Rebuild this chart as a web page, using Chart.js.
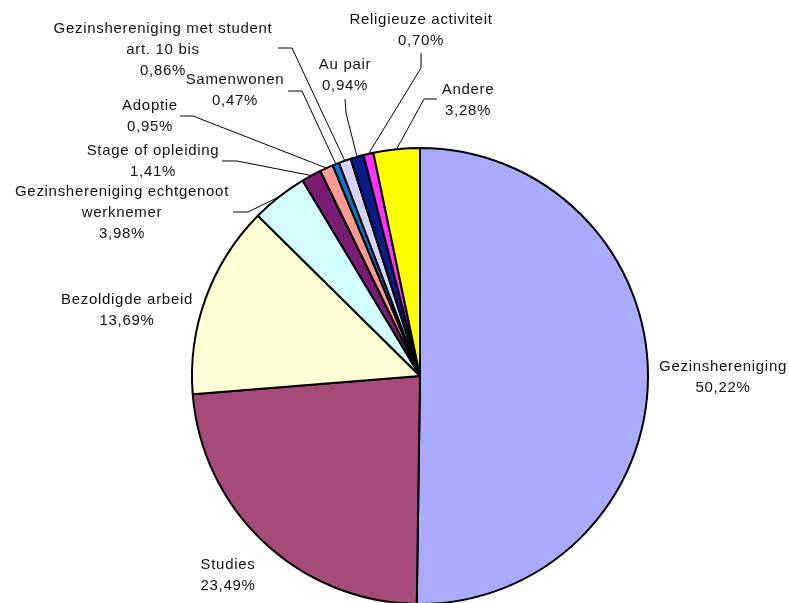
<!DOCTYPE html>
<html>
  <head>
    <meta charset="utf-8">
    <title>Verblijfsmotieven</title>
    <style>
      html, body {
        margin: 0;
        padding: 0;
        background: #ffffff;
        overflow: hidden;
      }
      #chartContainer {
        width: 789px;
        height: 603px;
      }
    </style>
    <script src="https://cdn.jsdelivr.net/npm/chart.js@4"></script>
  </head>
  <body>
    <div id="chartContainer">
      <canvas id="myChart"></canvas>
    </div>
    <script>
// Categories (multi-line names are arrays of lines)
const categories = [
  ["Gezinshereniging"],
  ["Studies"],
  ["Bezoldigde arbeid"],
  ["Gezinshereniging echtgenoot", "werknemer"],
  ["Stage of opleiding"],
  ["Adoptie"],
  ["Samenwonen"],
  ["Gezinshereniging met student", "art. 10 bis"],
  ["Au pair"],
  ["Religieuze activiteit"],
  ["Andere"]
];

// Share in percent
const shares = [50.22, 23.49, 13.69, 3.98, 1.41, 0.95, 0.47, 0.86, 0.94, 0.70, 3.28];

const sliceColors = [
  "#aaaaff", "#a64a78", "#ffffd5", "#d4ffff", "#7a1c74", "#ff9a92",
  "#0a78cc", "#d4d4ff", "#0a1a88", "#ff33ff", "#ffff00"
];

// Where each label sits: text centre x, y of first line, and the bend points of its leader
// (the leader always ends on the outer edge of its slice)
const labelLayout = [
  { x: 723, y: 367, leader: null },
  { x: 228, y: 565, leader: null },
  { x: 127, y: 300, leader: null },
  { x: 122, y: 192, leader: [[233, 212], [248, 212]] },
  { x: 153, y: 151, leader: [[222, 161], [237, 161]] },
  { x: 150, y: 106, leader: [[180, 116], [193, 116]] },
  { x: 235, y: 80,  leader: [[288, 91], [302, 91]] },
  { x: 163, y: 29,  leader: [[278, 48], [292, 48]] },
  { x: 345, y: 65,  leader: [[345, 99], [346, 113]] },
  { x: 421, y: 20,  leader: [[421, 53], [421, 68]] },
  { x: 468, y: 90,  leader: [[437, 99], [424, 99]] }
];

const lineHeight = 21;

function formatShare(v) {
  return v.toFixed(2).replace(".", ",") + "%";
}

// Draws the category names, percentages and leader lines
const sliceLabels = {
  id: "sliceLabels",
  afterDatasetsDraw(chart) {
    const ctx = chart.ctx;
    const arcs = chart.getDatasetMeta(0).data;
    ctx.save();
    ctx.font = "15px 'Liberation Sans', Arial, sans-serif";
    ctx.letterSpacing = "0.7px";
    ctx.fillStyle = "#111111";
    ctx.textAlign = "center";
    ctx.textBaseline = "middle";
    arcs.forEach(function (arc, i) {
      const pos = labelLayout[i];
      const lines = categories[i].concat([formatShare(shares[i])]);
      lines.forEach(function (t, k) {
        ctx.fillText(t, pos.x, pos.y + k * lineHeight);
      });
      if (pos.leader) {
        const p = arc.getProps(["x", "y", "startAngle", "endAngle", "outerRadius"], true);
        const mid = (p.startAngle + p.endAngle) / 2;
        const ax = p.x + Math.cos(mid) * p.outerRadius;
        const ay = p.y + Math.sin(mid) * p.outerRadius;
        ctx.beginPath();
        ctx.moveTo(pos.leader[0][0], pos.leader[0][1]);
        for (let j = 1; j < pos.leader.length; j++) {
          ctx.lineTo(pos.leader[j][0], pos.leader[j][1]);
        }
        ctx.lineTo(ax, ay);
        ctx.strokeStyle = "#000000";
        ctx.lineWidth = 1;
        ctx.stroke();
      }
    });
    ctx.restore();
  }
};

var ctx = document.getElementById("myChart").getContext("2d");
var myChart = new Chart(ctx, {
  type: "pie",
  data: {
    labels: categories.map(function (c) { return c.join(" "); }),
    datasets: [
      {
        data: shares,
        backgroundColor: sliceColors,
        borderColor: "#000000",
        borderWidth: 2
      }
    ]
  },
  plugins: [sliceLabels],
  options: {
    responsive: true,
    maintainAspectRatio: false,
    animation: false,
    radius: 228,
    layout: {
      padding: { left: 60, right: 9, top: 150, bottom: 1 }
    },
    plugins: {
      legend: { display: false },
      tooltip: { enabled: false }
    }
  }
});
    </script>
  </body>
</html>
